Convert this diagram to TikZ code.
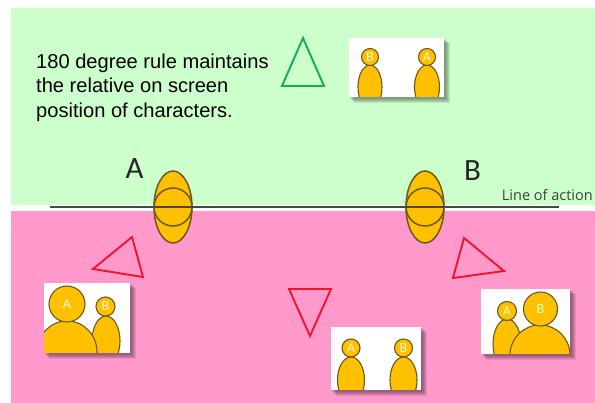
\documentclass[tikz,border=0pt]{standalone}
\usepackage{fontspec}
\setmainfont{Liberation Sans}
\newfontfamily\carlitofont{Carlito}
\newfontfamily\opensansfont{Open Sans}
\usetikzlibrary{shapes.geometric}
\definecolor{greenbg}{HTML}{CCFFCC}
\definecolor{pinkbg}{HTML}{FF99CC}
\definecolor{gold}{HTML}{FFC000}
\definecolor{goldline}{HTML}{6B5A1E}
\definecolor{camgreen}{HTML}{14AB5A}
\definecolor{camred}{HTML}{F0142D}
\tikzset{
  person/.style={draw=goldline,fill=gold,line width=1.5pt},
  thinperson/.style={draw=goldline,fill=gold,line width=1.1pt},
  camgood/.style={draw=camgreen,line width=1.9pt,line join=miter},
  cambad/.style={draw=camred,line width=1.9pt,line join=miter},
  headlabel/.style={text=white!80!yellow,font=\carlitofont\fontsize{14}{14}\selectfont,inner sep=0pt}
}
\newcommand{\picframe}[4]{%
  \foreach \s in {6,5,4,3,2}{
    \fill[black,opacity=0.09] (#1+\s-1,#2+\s-1) rectangle (#3+\s,#4+\s);
  }
  \fill[white] (#1,#2) rectangle (#3,#4);
}
\begin{document}
\begin{tikzpicture}[x=1pt,y=-1pt]
\useasboundingbox (0,0) rectangle (595,403);
\fill[white] (0,0) rectangle (595,403);
\fill[greenbg] (11,8) rectangle (595,205.5);
\fill[pinkbg] (11,211.5) rectangle (595,403);

% text
\node[anchor=north west,inner sep=0pt,align=left,font=\fontsize{20.1}{24.5}\selectfont] (caption) at (36,53.5)
  {180 degree rule maintains\\the relative on screen\\position of characters.};
\node[font=\carlitofont\fontsize{31}{31}\selectfont,text=black!85,inner sep=0pt] (labA) at (134.5,169) {A};
\node[font=\carlitofont\fontsize{31}{31}\selectfont,text=black!85,inner sep=0pt] (labB) at (472.5,171) {B};
\node[anchor=base east,font=\opensansfont\fontsize{14.5}{14.5}\selectfont,text=black!75,inner sep=0pt] (loa) at (593,201) {Line of action};

% line of action and characters
\coordinate (loaL) at (50,207.5);
\coordinate (loaR) at (559,207.5);
\node[ellipse,person,minimum width=38pt,minimum height=72pt,inner sep=0pt] (charAo) at (173,207) {};
\node[circle,person,minimum size=38pt,inner sep=0pt] (charAi) at (173,207) {};
\node[ellipse,person,minimum width=38pt,minimum height=72pt,inner sep=0pt] (charBo) at (425,207) {};
\node[circle,person,minimum size=38pt,inner sep=0pt] (charBi) at (425,207) {};
\draw[black!72,line width=2pt] (loaL) -- (loaR);

% camera triangles
\draw[camgood] (303,38) -- (282,86) -- (324,86) -- cycle;
\draw[cambad] (132,237) -- (93,269) -- (143,277) -- cycle;
\draw[cambad] (464,238) -- (504,271) -- (453,278) -- cycle;
\draw[cambad] (289,289) -- (331,289) -- (310,336) -- cycle;

% top picture
\picframe{349}{38}{444}{97}
\begin{scope}
  \clip (349,38) rectangle (444,97);
  \draw[thinperson] (370,87) ellipse [x radius=12,y radius=22];
  \draw[thinperson] (427,87) ellipse [x radius=12.5,y radius=22];
\end{scope}
\node[circle,thinperson,minimum size=17pt,inner sep=0pt,headlabel] (topB) at (370,57) {B};
\node[circle,thinperson,minimum size=17pt,inner sep=0pt,headlabel] (topA) at (427,57) {A};

% left picture
\picframe{44}{283}{130}{353}
\begin{scope}
  \clip (44,283) rectangle (130,353);
  \draw[thinperson] (106,341) ellipse [x radius=14,y radius=25];
  \draw[thinperson] (67,352) ellipse [x radius=30,y radius=31];
\end{scope}
\node[circle,thinperson,minimum size=36pt,inner sep=0pt,headlabel] (leftA) at (67,304) {A};
\node[circle,thinperson,minimum size=19pt,inner sep=0pt,headlabel] (leftB) at (105.5,306.5) {B};

% right picture
\picframe{481}{289}{570}{354}
\begin{scope}
  \clip (481,289) rectangle (570,354);
  \draw[thinperson] (507,344) ellipse [x radius=14,y radius=25];
  \draw[thinperson] (540,355) ellipse [x radius=30,y radius=30];
\end{scope}
\node[circle,thinperson,minimum size=19pt,inner sep=0pt,headlabel] (rightA) at (507,311) {A};
\node[circle,thinperson,minimum size=34pt,inner sep=0pt,headlabel] (rightB) at (540.5,309) {B};

% bottom picture
\picframe{331}{327}{421}{390}
\begin{scope}
  \clip (331,327) rectangle (421,390);
  \draw[thinperson] (351,380) ellipse [x radius=13.5,y radius=23];
  \draw[thinperson] (403.5,380) ellipse [x radius=13.5,y radius=23];
\end{scope}
\node[circle,thinperson,minimum size=18pt,inner sep=0pt,headlabel] (botA) at (351,348) {A};
\node[circle,thinperson,minimum size=18pt,inner sep=0pt,headlabel] (botB) at (403.5,348) {B};
\end{tikzpicture}
\end{document}
